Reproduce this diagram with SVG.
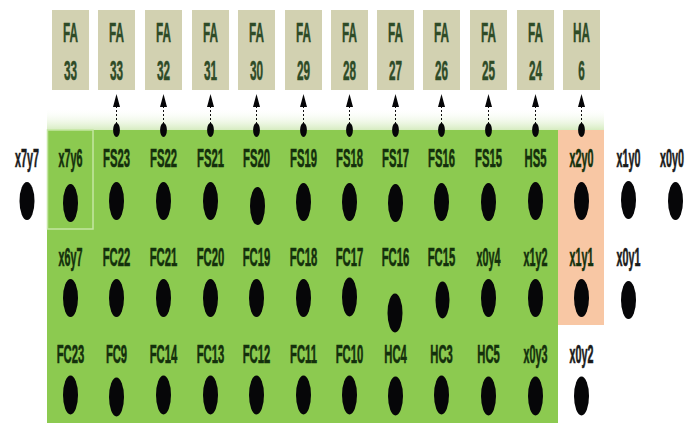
<svg xmlns="http://www.w3.org/2000/svg" width="685" height="424" viewBox="0 0 685 424">
  <defs>
    <style>
      .box { fill: #d2d1b1; }
      .boxtxt { font-family: "Liberation Sans", Arial, sans-serif; font-weight: bold; font-size: 28px; fill: #2e4b27; text-anchor: middle; stroke: #2e4b27; stroke-width: 0.5; }
      .lbl { font-family: "Liberation Sans", Arial, sans-serif; font-weight: bold; font-size: 25px; fill: #14300c; text-anchor: middle; stroke: #14300c; stroke-width: 0.6; }
      .lbl.out { fill: #1a1a1a; stroke: #1a1a1a; }
      .dot { fill: #060608; }
      .wire { stroke: #111; stroke-width: 1; stroke-dasharray: 2 2; fill: none; }
      .tip { fill: #060608; }
    </style>
    <linearGradient id="fade" x1="0" y1="0" x2="0" y2="1">
      <stop offset="0" stop-color="#ffffff" stop-opacity="0"/>
      <stop offset="1" stop-color="#d6ecc0"/>
    </linearGradient>
  </defs>

  <rect width="685" height="424" fill="#ffffff"/>

  <!-- shaded regions of the dot matrix -->
  <g id="regions">
    <rect x="47" y="108" width="557" height="22" fill="url(#fade)"/>
    <rect x="47" y="130" width="511" height="293" fill="#8cca50"/>
    <rect x="558" y="130" width="46" height="195" fill="#f8c7a4"/>
    <rect x="47.5" y="130" width="45.5" height="99" fill="none" stroke="#c4e6a2" stroke-width="1.5"/>
  </g>

  <!-- adder blocks -->
  <g id="FA33a"><rect class="box" x="52" y="10" width="37" height="80"/>
    <text class="boxtxt" transform="translate(70.5,42) scale(0.42,1)">FA</text>
    <text class="boxtxt" transform="translate(70.5,80) scale(0.42,1)">33</text></g>
  <g id="FA33b"><rect class="box" x="98" y="10" width="37" height="80"/>
    <text class="boxtxt" transform="translate(116.5,42) scale(0.42,1)">FA</text>
    <text class="boxtxt" transform="translate(116.5,80) scale(0.42,1)">33</text></g>
  <g id="FA32"><rect class="box" x="145" y="10" width="37" height="80"/>
    <text class="boxtxt" transform="translate(163.5,42) scale(0.42,1)">FA</text>
    <text class="boxtxt" transform="translate(163.5,80) scale(0.42,1)">32</text></g>
  <g id="FA31"><rect class="box" x="192" y="10" width="37" height="80"/>
    <text class="boxtxt" transform="translate(210.5,42) scale(0.42,1)">FA</text>
    <text class="boxtxt" transform="translate(210.5,80) scale(0.42,1)">31</text></g>
  <g id="FA30"><rect class="box" x="238" y="10" width="37" height="80"/>
    <text class="boxtxt" transform="translate(256.5,42) scale(0.42,1)">FA</text>
    <text class="boxtxt" transform="translate(256.5,80) scale(0.42,1)">30</text></g>
  <g id="FA29"><rect class="box" x="285" y="10" width="37" height="80"/>
    <text class="boxtxt" transform="translate(303.5,42) scale(0.42,1)">FA</text>
    <text class="boxtxt" transform="translate(303.5,80) scale(0.42,1)">29</text></g>
  <g id="FA28"><rect class="box" x="331" y="10" width="37" height="80"/>
    <text class="boxtxt" transform="translate(349.5,42) scale(0.42,1)">FA</text>
    <text class="boxtxt" transform="translate(349.5,80) scale(0.42,1)">28</text></g>
  <g id="FA27"><rect class="box" x="377" y="10" width="37" height="80"/>
    <text class="boxtxt" transform="translate(395.5,42) scale(0.42,1)">FA</text>
    <text class="boxtxt" transform="translate(395.5,80) scale(0.42,1)">27</text></g>
  <g id="FA26"><rect class="box" x="423" y="10" width="37" height="80"/>
    <text class="boxtxt" transform="translate(441.5,42) scale(0.42,1)">FA</text>
    <text class="boxtxt" transform="translate(441.5,80) scale(0.42,1)">26</text></g>
  <g id="FA25"><rect class="box" x="470" y="10" width="37" height="80"/>
    <text class="boxtxt" transform="translate(488.5,42) scale(0.42,1)">FA</text>
    <text class="boxtxt" transform="translate(488.5,80) scale(0.42,1)">25</text></g>
  <g id="FA24"><rect class="box" x="517" y="10" width="37" height="80"/>
    <text class="boxtxt" transform="translate(535.5,42) scale(0.42,1)">FA</text>
    <text class="boxtxt" transform="translate(535.5,80) scale(0.42,1)">24</text></g>
  <g id="HA6"><rect class="box" x="563" y="10" width="37" height="80"/>
    <text class="boxtxt" transform="translate(581.5,42) scale(0.42,1)">HA</text>
    <text class="boxtxt" transform="translate(581.5,80) scale(0.42,1)">6</text></g>

  <!-- carry/sum feeds into the adders -->
  <g id="connectors">
    <g id="c-FS23"><line class="wire" x1="116.5" y1="124" x2="116.5" y2="106"/><polygon class="tip" points="116.5,94 113,107 120,107"/><ellipse class="dot" cx="116.5" cy="130" rx="3.4" ry="7"/></g>
    <g id="c-FS22"><line class="wire" x1="163.5" y1="124" x2="163.5" y2="106"/><polygon class="tip" points="163.5,94 160,107 167,107"/><ellipse class="dot" cx="163.5" cy="130" rx="3.4" ry="7"/></g>
    <g id="c-FS21"><line class="wire" x1="210.5" y1="124" x2="210.5" y2="106"/><polygon class="tip" points="210.5,94 207,107 214,107"/><ellipse class="dot" cx="210.5" cy="130" rx="3.4" ry="7"/></g>
    <g id="c-FS20"><line class="wire" x1="256.5" y1="124" x2="256.5" y2="106"/><polygon class="tip" points="256.5,94 253,107 260,107"/><ellipse class="dot" cx="256.5" cy="130" rx="3.4" ry="7"/></g>
    <g id="c-FS19"><line class="wire" x1="303.5" y1="124" x2="303.5" y2="106"/><polygon class="tip" points="303.5,94 300,107 307,107"/><ellipse class="dot" cx="303.5" cy="130" rx="3.4" ry="7"/></g>
    <g id="c-FS18"><line class="wire" x1="349.5" y1="124" x2="349.5" y2="106"/><polygon class="tip" points="349.5,94 346,107 353,107"/><ellipse class="dot" cx="349.5" cy="130" rx="3.4" ry="7"/></g>
    <g id="c-FS17"><line class="wire" x1="395.5" y1="124" x2="395.5" y2="106"/><polygon class="tip" points="395.5,94 392,107 399,107"/><ellipse class="dot" cx="395.5" cy="130" rx="3.4" ry="7"/></g>
    <g id="c-FS16"><line class="wire" x1="441.5" y1="124" x2="441.5" y2="106"/><polygon class="tip" points="441.5,94 438,107 445,107"/><ellipse class="dot" cx="441.5" cy="130" rx="3.4" ry="7"/></g>
    <g id="c-FS15"><line class="wire" x1="488.5" y1="124" x2="488.5" y2="106"/><polygon class="tip" points="488.5,94 485,107 492,107"/><ellipse class="dot" cx="488.5" cy="130" rx="3.4" ry="7"/></g>
    <g id="c-HS5"><line class="wire" x1="535.5" y1="124" x2="535.5" y2="106"/><polygon class="tip" points="535.5,94 532,107 539,107"/><ellipse class="dot" cx="535.5" cy="130" rx="3.4" ry="7"/></g>
    <g id="c-x2y0"><line class="wire" x1="581.5" y1="124" x2="581.5" y2="106"/><polygon class="tip" points="581.5,94 578,107 585,107"/><ellipse class="dot" cx="581.5" cy="130" rx="3.4" ry="7"/></g>
  </g>

  <!-- row 1 -->
  <g id="x7y7"><text class="lbl out" transform="translate(27,167) scale(0.43,1)">x7y7</text><ellipse class="dot" cx="27" cy="201" rx="7.5" ry="19"/></g>
  <g id="x7y6"><text class="lbl" transform="translate(70.5,167) scale(0.43,1)">x7y6</text><ellipse class="dot" cx="70.5" cy="203" rx="7.5" ry="19"/></g>
  <g id="FS23"><text class="lbl" transform="translate(116.5,167) scale(0.45,1)">FS23</text><ellipse class="dot" cx="116.5" cy="201" rx="7.5" ry="19"/></g>
  <g id="FS22"><text class="lbl" transform="translate(163.5,167) scale(0.45,1)">FS22</text><ellipse class="dot" cx="163.5" cy="201" rx="7.5" ry="19"/></g>
  <g id="FS21"><text class="lbl" transform="translate(210.5,167) scale(0.45,1)">FS21</text><ellipse class="dot" cx="210.5" cy="201" rx="7.5" ry="19"/></g>
  <g id="FS20"><text class="lbl" transform="translate(256.5,167) scale(0.45,1)">FS20</text><ellipse class="dot" cx="257.5" cy="206" rx="7.5" ry="19"/></g>
  <g id="FS19"><text class="lbl" transform="translate(303.5,167) scale(0.45,1)">FS19</text><ellipse class="dot" cx="303.5" cy="202" rx="7.5" ry="19"/></g>
  <g id="FS18"><text class="lbl" transform="translate(349.5,167) scale(0.45,1)">FS18</text><ellipse class="dot" cx="349.5" cy="202" rx="7.5" ry="19"/></g>
  <g id="FS17"><text class="lbl" transform="translate(395.5,167) scale(0.45,1)">FS17</text><ellipse class="dot" cx="395.5" cy="203" rx="7.5" ry="19"/></g>
  <g id="FS16"><text class="lbl" transform="translate(441.5,167) scale(0.45,1)">FS16</text><ellipse class="dot" cx="441.5" cy="202" rx="7.5" ry="19"/></g>
  <g id="FS15"><text class="lbl" transform="translate(488.5,167) scale(0.45,1)">FS15</text><ellipse class="dot" cx="488.5" cy="202" rx="7.5" ry="19"/></g>
  <g id="HS5"><text class="lbl" transform="translate(535.5,167) scale(0.45,1)">HS5</text><ellipse class="dot" cx="535.5" cy="201" rx="7.5" ry="19"/></g>
  <g id="x2y0"><text class="lbl" transform="translate(581.5,167) scale(0.43,1)">x2y0</text><ellipse class="dot" cx="581.5" cy="201" rx="7.5" ry="19"/></g>
  <g id="x1y0"><text class="lbl out" transform="translate(628.5,167) scale(0.43,1)">x1y0</text><ellipse class="dot" cx="628.5" cy="200" rx="7.5" ry="19"/></g>
  <g id="x0y0"><text class="lbl out" transform="translate(672,167) scale(0.43,1)">x0y0</text><ellipse class="dot" cx="675.5" cy="201" rx="7.5" ry="19"/></g>

  <!-- row 2 -->
  <g id="x6y7"><text class="lbl" transform="translate(70.5,266) scale(0.43,1)">x6y7</text><ellipse class="dot" cx="70.5" cy="298" rx="7.5" ry="19"/></g>
  <g id="FC22"><text class="lbl" transform="translate(116.5,266) scale(0.45,1)">FC22</text><ellipse class="dot" cx="116.5" cy="298" rx="7.5" ry="19"/></g>
  <g id="FC21"><text class="lbl" transform="translate(163.5,266) scale(0.45,1)">FC21</text><ellipse class="dot" cx="163.5" cy="298" rx="7.5" ry="19"/></g>
  <g id="FC20"><text class="lbl" transform="translate(210.5,266) scale(0.45,1)">FC20</text><ellipse class="dot" cx="210.5" cy="298" rx="7.5" ry="19"/></g>
  <g id="FC19"><text class="lbl" transform="translate(256.5,266) scale(0.45,1)">FC19</text><ellipse class="dot" cx="256.5" cy="298" rx="7.5" ry="19"/></g>
  <g id="FC18"><text class="lbl" transform="translate(303.5,266) scale(0.45,1)">FC18</text><ellipse class="dot" cx="303.5" cy="298" rx="7.5" ry="19"/></g>
  <g id="FC17"><text class="lbl" transform="translate(349.5,266) scale(0.45,1)">FC17</text><ellipse class="dot" cx="349.5" cy="297" rx="7.5" ry="19.5"/></g>
  <g id="FC16"><text class="lbl" transform="translate(395.5,266) scale(0.45,1)">FC16</text><ellipse class="dot" cx="395" cy="313" rx="7.5" ry="19.5"/></g>
  <g id="FC15"><text class="lbl" transform="translate(441.5,266) scale(0.45,1)">FC15</text><ellipse class="dot" cx="442.5" cy="300" rx="7" ry="18.5"/></g>
  <g id="x0y4"><text class="lbl" transform="translate(488.5,266) scale(0.43,1)">x0y4</text><ellipse class="dot" cx="488.5" cy="298" rx="7.5" ry="19"/></g>
  <g id="x1y2"><text class="lbl" transform="translate(535.5,266) scale(0.43,1)">x1y2</text><ellipse class="dot" cx="535.5" cy="298" rx="7.5" ry="19"/></g>
  <g id="x1y1"><text class="lbl" transform="translate(581.5,266) scale(0.43,1)">x1y1</text><ellipse class="dot" cx="581.5" cy="298" rx="7.5" ry="19"/></g>
  <g id="x0y1"><text class="lbl out" transform="translate(628.5,266) scale(0.43,1)">x0y1</text><ellipse class="dot" cx="628.5" cy="300" rx="7.5" ry="19"/></g>

  <!-- row 3 -->
  <g id="FC23"><text class="lbl" transform="translate(70.5,363) scale(0.45,1)">FC23</text><ellipse class="dot" cx="70.5" cy="395" rx="7.5" ry="19.5"/></g>
  <g id="FC9"><text class="lbl" transform="translate(116.5,363) scale(0.45,1)">FC9</text><ellipse class="dot" cx="116.5" cy="397" rx="7.5" ry="19.5"/></g>
  <g id="FC14"><text class="lbl" transform="translate(163.5,363) scale(0.45,1)">FC14</text><ellipse class="dot" cx="163.5" cy="395" rx="7.5" ry="19.5"/></g>
  <g id="FC13"><text class="lbl" transform="translate(210.5,363) scale(0.45,1)">FC13</text><ellipse class="dot" cx="210.5" cy="395" rx="7.5" ry="19.5"/></g>
  <g id="FC12"><text class="lbl" transform="translate(256.5,363) scale(0.45,1)">FC12</text><ellipse class="dot" cx="256.5" cy="395" rx="7.5" ry="19.5"/></g>
  <g id="FC11"><text class="lbl" transform="translate(303.5,363) scale(0.45,1)">FC11</text><ellipse class="dot" cx="303.5" cy="395" rx="7.5" ry="19.5"/></g>
  <g id="FC10"><text class="lbl" transform="translate(349.5,363) scale(0.45,1)">FC10</text><ellipse class="dot" cx="349.5" cy="395" rx="7.5" ry="19.5"/></g>
  <g id="HC4"><text class="lbl" transform="translate(395.5,363) scale(0.45,1)">HC4</text><ellipse class="dot" cx="395.5" cy="396" rx="7.5" ry="19.5"/></g>
  <g id="HC3"><text class="lbl" transform="translate(441.5,363) scale(0.45,1)">HC3</text><ellipse class="dot" cx="441.5" cy="395" rx="7.5" ry="19.5"/></g>
  <g id="HC5"><text class="lbl" transform="translate(488.5,363) scale(0.45,1)">HC5</text><ellipse class="dot" cx="488.5" cy="396" rx="7.5" ry="19.5"/></g>
  <g id="x0y3"><text class="lbl" transform="translate(535.5,363) scale(0.43,1)">x0y3</text><ellipse class="dot" cx="535.5" cy="396" rx="7.5" ry="19.5"/></g>
  <g id="x0y2"><text class="lbl out" transform="translate(581.5,363) scale(0.43,1)">x0y2</text><ellipse class="dot" cx="581.5" cy="396" rx="7.5" ry="19.5"/></g>
</svg>
